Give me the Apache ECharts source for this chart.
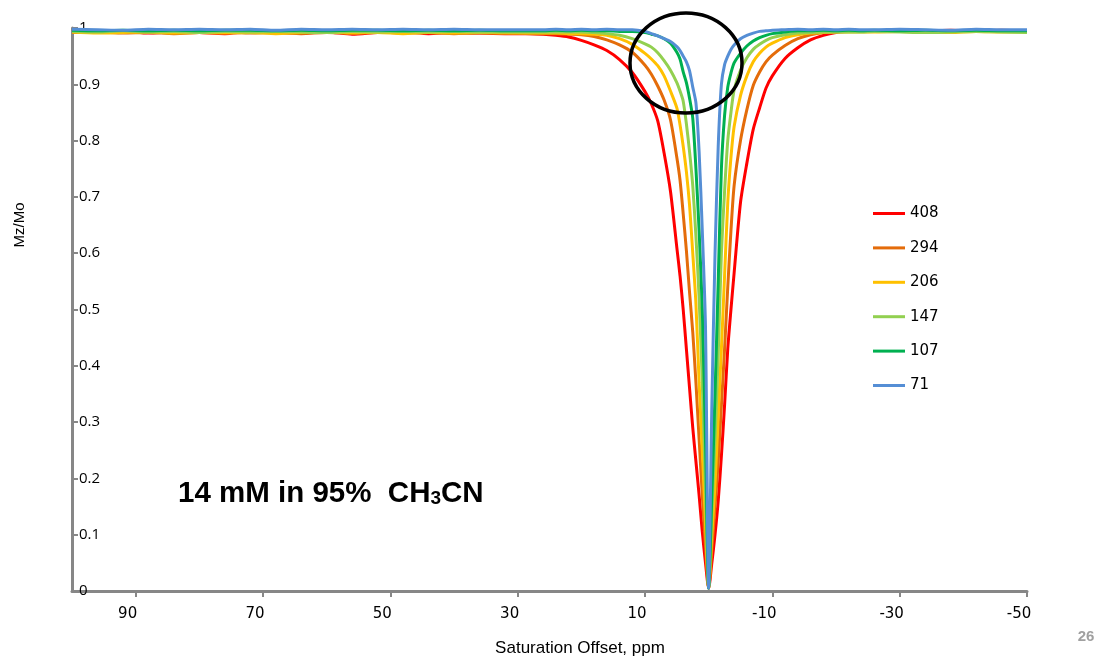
<!DOCTYPE html>
<html>
<head>
<meta charset="utf-8">
<script src="https://cdn.jsdelivr.net/npm/echarts@6/dist/echarts.min.js"></script>
<style>html,body{margin:0;padding:0;background:#fff}#c{width:1112px;height:660px}</style>
</head>
<body>
<div id="c"></div>
<script>
// Saturation offset (ppm)
var ppm = [100,96,92,88,84,80,76,72,68,64,60,56,52,48,44,40,36,32,28,
  26,24,22,20,18,16,14,12,10,9,8,7,6,5,4.5,4,3.5,3,2.5,2,1.5,1,0.5,0,
  -0.5,-1,-1.5,-2,-2.5,-3,-3.5,-4,-5,-6,-7,-8,-9,-10,-12,-14,-16,-18,-20,-22,-24,
  -26,-30,-34,-38,-42,-46,-50];

var seriesNames = ['408','294','206','147','107','71'];

var s408 = [0.993,0.992,0.994,0.991,0.993,0.992,0.990,0.993,0.992,0.991,0.993,0.989,0.992,0.993,0.990,0.992,0.991,0.990,0.990,
  0.989,0.987,0.984,0.978,0.970,0.960,0.944,0.921,0.887,0.865,0.835,0.778,0.710,0.610,0.560,0.500,0.430,0.360,0.290,0.230,0.170,0.105,0.050,0.005,
  0.050,0.100,0.160,0.240,0.330,0.430,0.500,0.565,0.690,0.760,0.820,0.858,0.893,0.915,0.946,0.965,0.979,0.987,0.992,0.994,0.995,
  0.995,0.996,0.995,0.996,0.995,0.996,0.995];

var s294 = [0.992,0.993,0.991,0.992,0.990,0.992,0.993,0.991,0.992,0.990,0.992,0.991,0.993,0.991,0.992,0.990,0.991,0.991,0.990,
  0.990,0.990,0.989,0.988,0.985,0.979,0.970,0.957,0.934,0.918,0.897,0.872,0.837,0.770,0.730,0.670,0.605,0.530,0.460,0.370,0.270,0.170,0.080,0.005,
  0.075,0.150,0.230,0.330,0.430,0.540,0.640,0.720,0.800,0.855,0.898,0.922,0.940,0.952,0.969,0.981,0.988,0.992,0.993,0.994,0.994,
  0.994,0.995,0.994,0.995,0.994,0.995,0.994];

var s206 = [0.993,0.991,0.992,0.993,0.991,0.992,0.991,0.992,0.990,0.992,0.993,0.991,0.992,0.990,0.992,0.991,0.992,0.991,0.991,
  0.991,0.991,0.990,0.990,0.989,0.987,0.981,0.971,0.955,0.945,0.933,0.915,0.888,0.858,0.828,0.790,0.745,0.685,0.600,0.510,0.370,0.250,0.120,0.005,
  0.100,0.190,0.310,0.430,0.560,0.690,0.770,0.825,0.880,0.915,0.940,0.955,0.966,0.973,0.983,0.988,0.991,0.992,0.993,0.993,0.993,
  0.993,0.994,0.993,0.992,0.994,0.993,0.993];

var s147 = [0.994,0.993,0.995,0.993,0.994,0.992,0.994,0.993,0.994,0.993,0.992,0.994,0.993,0.994,0.993,0.994,0.993,0.993,0.993,
  0.993,0.993,0.993,0.993,0.992,0.990,0.987,0.981,0.972,0.966,0.956,0.942,0.925,0.903,0.888,0.870,0.830,0.780,0.720,0.630,0.520,0.370,0.180,0.005,
  0.140,0.270,0.420,0.600,0.710,0.800,0.850,0.890,0.925,0.947,0.962,0.971,0.978,0.983,0.988,0.991,0.992,0.993,0.993,0.993,0.993,
  0.994,0.993,0.992,0.993,0.994,0.993,0.992];

var s107 = [0.996,0.995,0.996,0.995,0.996,0.995,0.996,0.996,0.995,0.996,0.995,0.996,0.996,0.995,0.996,0.995,0.996,0.995,0.995,
  0.995,0.996,0.995,0.996,0.995,0.995,0.994,0.994,0.992,0.989,0.986,0.981,0.973,0.957,0.945,0.922,0.903,0.875,0.840,0.750,0.640,0.500,0.270,0.005,
  0.170,0.350,0.550,0.750,0.845,0.895,0.920,0.938,0.955,0.968,0.977,0.983,0.987,0.990,0.993,0.995,0.995,0.996,0.995,0.996,0.995,
  0.996,0.995,0.996,0.995,0.996,0.995,0.995];

var s71 = [0.998,0.997,0.996,0.998,0.997,0.998,0.997,0.998,0.996,0.998,0.997,0.998,0.997,0.998,0.997,0.998,0.997,0.997,0.997,
  0.997,0.998,0.997,0.998,0.997,0.998,0.997,0.997,0.994,0.990,0.986,0.981,0.976,0.967,0.960,0.950,0.940,0.924,0.895,0.867,0.780,0.640,0.470,0.005,
  0.330,0.600,0.790,0.900,0.935,0.950,0.962,0.970,0.981,0.987,0.991,0.994,0.995,0.996,0.997,0.998,0.997,0.998,0.997,0.998,0.997,
  0.997,0.998,0.997,0.996,0.998,0.997,0.997];

var xTickValues = [90,70,50,30,10,-10,-30,-50];
var colors = ['#FF0000','#E46C0A','#FFC000','#92D050','#00B050','#558ED5'];
var allSeries = [s408,s294,s206,s147,s107,s71];

function pairs(ys){ return ppm.map(function(x,i){ return [x, ys[i]]; }); }

var chart = echarts.init(document.getElementById('c'), null, {renderer:'canvas'});
chart.setOption({
  animation:false,
  backgroundColor:'#fff',
  color: colors,
  grid:{left:72, right:85, top:28, bottom:69},
  legend:{
    orient:'vertical', left:873, top:206, padding:0, icon:'rect', itemWidth:32, itemHeight:3, itemGap:19.4,
    textStyle:{fontFamily:'DejaVu Sans', fontSize:15, color:'#000'},
    data: seriesNames
  },
  xAxis:{
    type:'value', inverse:true, min:-50, max:100,
    axisLine:{onZero:false, lineStyle:{color:'#878787', width:3}},
    axisTick:{show:true, customValues:xTickValues, length:6, lineStyle:{color:'#878787', width:2}},
    axisLabel:{customValues:xTickValues, margin:16, color:'#000', fontFamily:'DejaVu Sans', fontSize:15, padding:[0,16,0,0]},
    splitLine:{show:false}
  },
  yAxis:{
    type:'value', min:0, max:1, interval:0.1,
    axisLine:{show:true, onZero:false, lineStyle:{color:'#878787', width:3}},
    axisTick:{show:true, inside:true, length:6, lineStyle:{color:'#878787', width:2}},
    axisLabel:{inside:true, margin:7, color:'#000', fontFamily:'Open Sans', fontSize:15,
      formatter:function(v){ return String(Math.round(v*10)/10); }},
    splitLine:{show:false}
  },
  series: seriesNames.map(function(n,i){
    return {name:n, type:'line', data:pairs(allSeries[i]), symbol:'none', smooth:0.25,
      lineStyle:{width:3, color:colors[i]}, z:2+i};
  }),
  graphic:[
    {type:'ellipse', shape:{cx:686, cy:63, rx:56, ry:50}, style:{fill:null, stroke:'#000', lineWidth:3.5}, z:100},
    {type:'text', x:178, y:492, style:{
      text:'{a|14 mM in 95%  CH}{s|3}{a|CN}', textVerticalAlign:'middle',
      rich:{a:{fontFamily:'Liberation Sans', fontWeight:'bold', fontSize:29.5, lineHeight:33, verticalAlign:'bottom', fill:'#000'},
            s:{fontFamily:'Liberation Sans', fontWeight:'bold', fontSize:19, lineHeight:11, verticalAlign:'bottom', fill:'#000'}}
    }, z:100},
    {type:'text', x:580, y:648, style:{text:'Saturation Offset, ppm', textAlign:'center', textVerticalAlign:'middle',
      fontFamily:'Liberation Sans', fontSize:17, fill:'#000'}},
    {type:'text', x:20, y:225, rotation:Math.PI/2, style:{text:'Mz/Mo', textAlign:'center', textVerticalAlign:'middle',
      fontFamily:'Liberation Sans', fontSize:15, fill:'#000'}},
    {type:'text', x:1086, y:637, style:{text:'26', textAlign:'center', textVerticalAlign:'middle',
      fontFamily:'Liberation Sans', fontWeight:'bold', fontSize:15, fill:'#A0A0A0'}}
  ]
});
</script>
</body>
</html>
